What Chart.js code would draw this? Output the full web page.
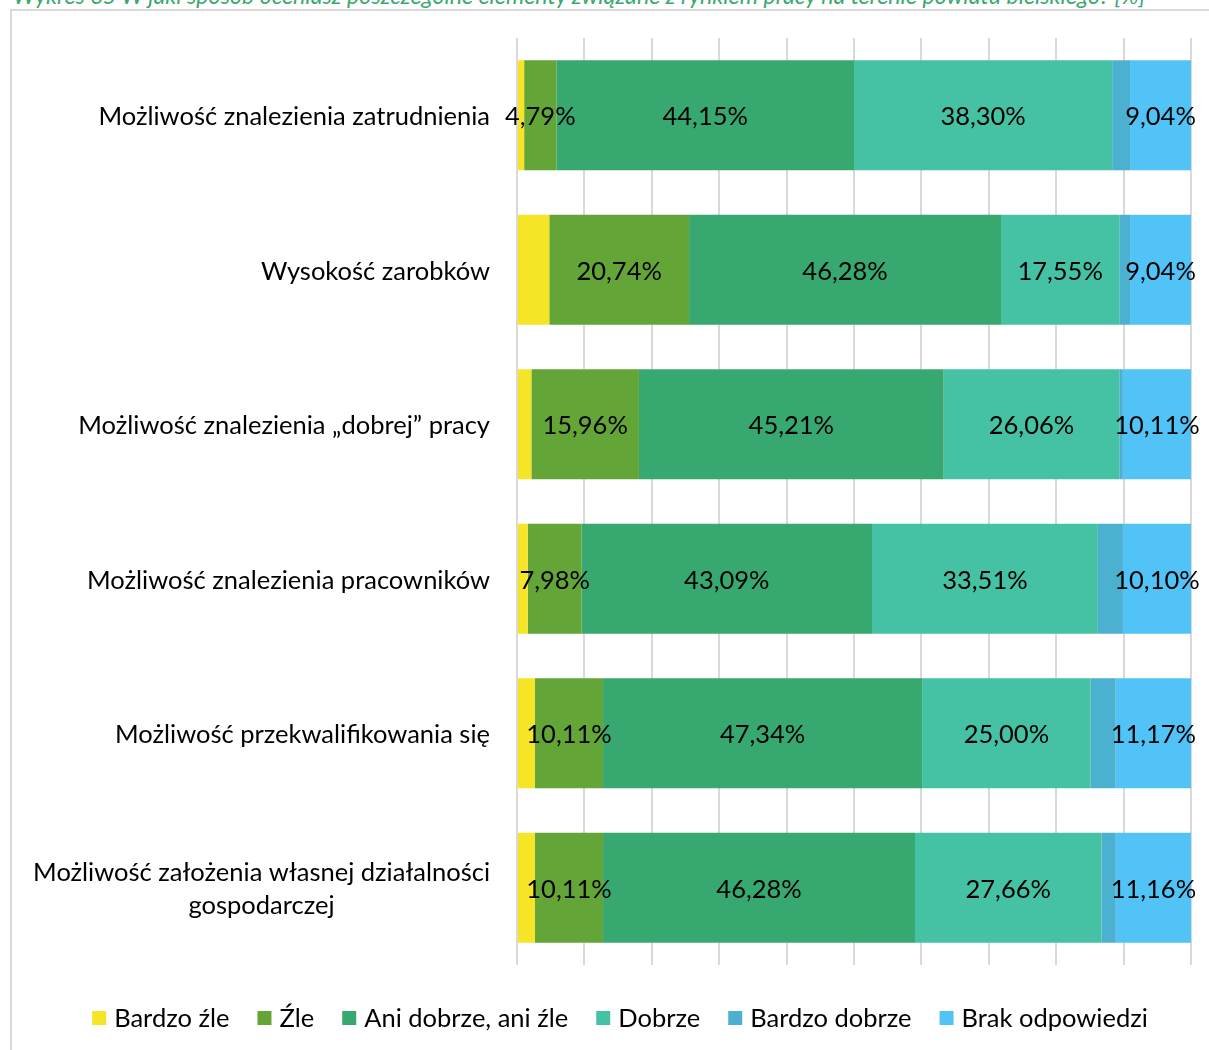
<!DOCTYPE html>
<html lang="pl">
<head>
<meta charset="utf-8">
<script src="https://cdn.jsdelivr.net/npm/chart.js@4/dist/chart.umd.min.js"></script>
<style>
  html, body { margin: 0; padding: 0; background: #fff; }
  body { width: 1209px; height: 1050px; position: relative; overflow: hidden; }
  #title {
    position: absolute; left: 13px; top: -19px; white-space: nowrap;
    font: italic 23.2px Lato, sans-serif; color: #3aa86f;
  }
  #frame {
    position: absolute; left: 10px; top: 9px; width: 1220px; height: 1060px;
    border: 2px solid #d9d9d9; box-sizing: border-box;
  }
  #wrap { position: absolute; left: 0; top: 0; width: 1209px; height: 1050px; }
</style>
</head>
<body>
<div id="title">Wykres 65 W jaki sposób oceniasz poszczególne elementy związane z rynkiem pracy na terenie powiatu bielskiego? [%]</div>
<div id="frame"></div>
<div id="wrap"><canvas id="chart"></canvas></div>
<script>
/* --- dane --- */
const CATEGORIES = [
  'Możliwość znalezienia zatrudnienia',
  'Wysokość zarobków',
  'Możliwość znalezienia „dobrej” pracy',
  'Możliwość znalezienia pracowników',
  'Możliwość przekwalifikowania się',
  ['Możliwość założenia własnej działalności', 'gospodarczej']
];

const BARDZO_ZLE    = [1.06, 4.79, 2.13, 1.60, 2.66, 2.66];
const ZLE           = [4.79, 20.74, 15.96, 7.98, 10.11, 10.11];
const ANI           = [44.15, 46.28, 45.21, 43.09, 47.34, 46.28];
const DOBRZE        = [38.30, 17.55, 26.06, 33.51, 25.00, 27.66];
const BARDZO_DOBRZE = [2.66, 1.60, 0.53, 3.72, 3.72, 2.13];
const BRAK          = [9.04, 9.04, 10.11, 10.10, 11.17, 11.16];

const SERIES = [
  { label: 'Bardzo źle',          data: BARDZO_ZLE,    color: '#f6e526', showValue: false },
  { label: 'Źle',                 data: ZLE,           color: '#64a537', showValue: true  },
  { label: 'Ani dobrze, ani źle', data: ANI,           color: '#37a870', showValue: true  },
  { label: 'Dobrze',              data: DOBRZE,        color: '#45c2a3', showValue: true  },
  { label: 'Bardzo dobrze',       data: BARDZO_DOBRZE, color: '#4cb1d0', showValue: false },
  { label: 'Brak odpowiedzi',     data: BRAK,          color: '#51c3f7', showValue: true  }
];

const FONT = 'Lato, sans-serif';
const FONT_SIZE = 25.5;

/* etykiety wartości na słupkach */
const valueLabels = {
  id: 'valueLabels',
  afterDatasetsDraw(chart) {
    const ctx = chart.ctx;
    ctx.save();
    ctx.font = `${FONT_SIZE}px ${FONT}`;
    ctx.fillStyle = '#000';
    ctx.textAlign = 'center';
    ctx.textBaseline = 'middle';
    chart.data.datasets.forEach((ds, i) => {
      if (!ds.showValue) return;
      chart.getDatasetMeta(i).data.forEach((bar, j) => {
        const txt = ds.data[j].toFixed(2).replace('.', ',') + '%';
        ctx.fillText(txt, (bar.x + bar.base) / 2, bar.y + 2);
      });
    });
    ctx.restore();
  }
};

/* etykiety kategorii (blok do prawej, wiersze wyśrodkowane) + legenda */
const sideTexts = {
  id: 'sideTexts',
  afterDraw(chart) {
    const ctx = chart.ctx;
    const y = chart.scales.y;
    const right = chart.chartArea.left - 27;
    const lineH = 33;
    ctx.save();
    ctx.font = `${FONT_SIZE}px ${FONT}`;
    ctx.fillStyle = '#000';
    ctx.textBaseline = 'middle';
    ctx.textAlign = 'center';
    CATEGORIES.forEach((cat, i) => {
      const lines = Array.isArray(cat) ? cat : [cat];
      const w = Math.max(...lines.map(l => ctx.measureText(l).width));
      const cy = y.getPixelForValue(i) + 2;
      lines.forEach((l, k) => {
        ctx.fillText(l, right - w / 2, cy + (k - (lines.length - 1) / 2) * lineH);
      });
    });

    // legenda
    const box = 14, gapTxt = 8, gapItem = 28, ly = 1018, cx = 620;
    const widths = chart.data.datasets.map(ds => box + gapTxt + ctx.measureText(ds.label).width);
    const total = widths.reduce((a, b) => a + b, 0) + gapItem * (widths.length - 1);
    let x = cx - total / 2;
    ctx.textAlign = 'left';
    chart.data.datasets.forEach((ds, i) => {
      ctx.fillStyle = ds.backgroundColor;
      ctx.fillRect(x, ly - box / 2, box, box);
      ctx.fillStyle = '#000';
      ctx.fillText(ds.label, x + box + gapTxt, ly + 1);
      x += widths[i] + gapItem;
    });
    ctx.restore();
  }
};

new Chart(document.getElementById('chart'), {
  type: 'bar',
  data: {
    labels: CATEGORIES,
    datasets: SERIES.map(s => ({
      label: s.label,
      data: s.data,
      backgroundColor: s.color,
      borderWidth: 0,
      showValue: s.showValue,
      categoryPercentage: 1,
      barPercentage: 0.712
    }))
  },
  options: {
    indexAxis: 'y',
    responsive: true,
    maintainAspectRatio: false,
    animation: false,
    layout: { padding: { left: 10, right: 18, top: 38, bottom: 85 } },
    scales: {
      x: {
        stacked: true, min: 0, max: 100,
        ticks: { display: false, stepSize: 10 },
        grid: { color: '#d9d9d9', lineWidth: 2, drawTicks: false },
        border: { display: false }
      },
      y: {
        stacked: true,
        ticks: { display: false },
        grid: { display: false, drawTicks: false },
        border: { display: false },
        afterFit(s) { s.width = 507; }
      }
    },
    plugins: {
      legend: { display: false },
      tooltip: { enabled: false }
    }
  },
  plugins: [valueLabels, sideTexts]
});
</script>
</body>
</html>
